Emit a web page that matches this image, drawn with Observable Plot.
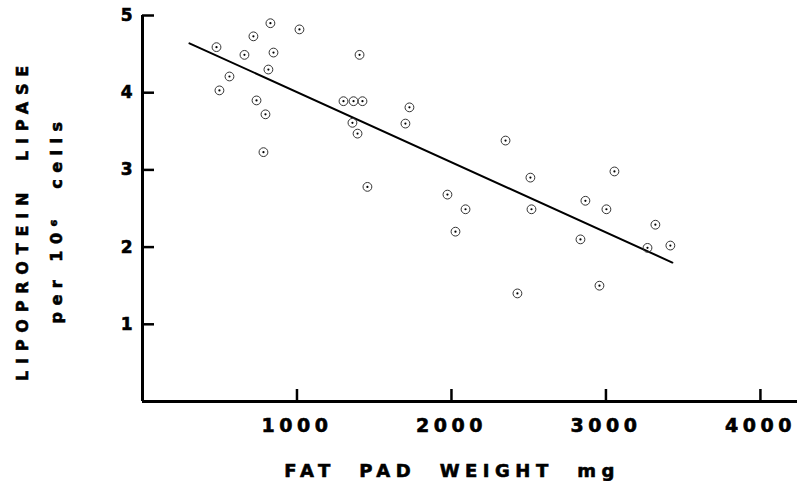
<!DOCTYPE html>
<html>
<head>
<meta charset="utf-8">
<script src="https://cdn.jsdelivr.net/npm/d3@7"></script>
<script src="https://cdn.jsdelivr.net/npm/@observablehq/plot@0.6"></script>
<style>
  body { margin: 0; background: #fff; }
  #chart { width: 797px; height: 481px; }
  g[aria-label="x-axis tick label"] text { letter-spacing: 4.5px; }
  g[aria-label="x-axis tick label"] text, g[aria-label="y-axis tick label"] text,
  [aria-label="x-title"], [aria-label="y-title"], [aria-label="y-subtitle"] {
    stroke: #000; stroke-width: 0.6px; paint-order: normal;
  }
  [aria-label="x-title"] { letter-spacing: 5.5px; }
  [aria-label="y-title"] { letter-spacing: 6.8px; }
  [aria-label="y-subtitle"] { letter-spacing: 6.5px; }
</style>
</head>
<body>
<div id="chart"></div>
<script>
// Fat pad weight (mg) of each observation
const fatPadWeight = [479, 498, 563, 660, 718, 738, 783, 796, 815, 828, 848, 1016,
  1301, 1366, 1424, 1359, 1392, 1405, 1456, 1702, 1728, 1974, 2026, 2091,
  2350, 2427, 2511, 2518, 2835, 2867, 2958, 3003, 3055, 3269, 3320, 3417];
// Lipoprotein lipase per 10^6 cells
const lipase = [4.59, 4.03, 4.21, 4.49, 4.73, 3.90, 3.23, 3.72, 4.30, 4.90, 4.52, 4.82,
  3.89, 3.89, 3.89, 3.61, 3.47, 4.49, 2.78, 3.60, 3.81, 2.68, 2.20, 2.49,
  3.38, 1.40, 2.90, 2.49, 2.10, 2.60, 1.50, 2.49, 2.98, 1.99, 2.29, 2.02];
// Regression line end points
const fitWeight = [304, 3430];
const fitLipase = [4.64, 1.80];
// Tick values
const xTicks = [1000, 2000, 3000, 4000];
const yTicks = [1, 2, 3, 4, 5];

const points = fatPadWeight.map((w, i) => ({w, l: lipase[i]}));
const fit = fitWeight.map((w, i) => ({w, l: fitLipase[i]}));

const font = "DejaVu Sans";

const chart = Plot.plot({
  width: 797,
  height: 481,
  marginLeft: 142,
  marginRight: 0,
  marginTop: 15,
  marginBottom: 80,
  style: {background: "#fff", color: "#000", overflow: "visible"},
  x: {domain: [0, 4240]},
  y: {domain: [0, 5]},
  marks: [
    Plot.axisX(xTicks, {tickSize: 0, tickPadding: 17, tickFormat: d => String(d), fontSize: 19, fontWeight: "bold", fontFamily: font, label: null}),
    Plot.axisY(yTicks, {tickSize: 0, tickPadding: 10, tickFormat: d => String(d), fontSize: 17, fontWeight: "bold", fontFamily: font, label: null}),
    Plot.tickX(xTicks, {x: d => d, strokeWidth: 2.5, insetTop: 374}),
    Plot.tickY(yTicks, {y: d => d, strokeWidth: 2.5, insetRight: 643}),
    Plot.ruleX([0], {strokeWidth: 3}),
    Plot.ruleY([0], {strokeWidth: 3}),
    Plot.line(fit, {x: "w", y: "l", stroke: "#000", strokeWidth: 2}),
    Plot.dot(points, {x: "w", y: "l", r: 4.4, stroke: "#333", strokeWidth: 1, fill: "none"}),
    Plot.dot(points, {x: "w", y: "l", r: 1.1, fill: "#000", stroke: "none"}),
    Plot.text(["FAT\u00a0\u00a0PAD\u00a0\u00a0WEIGHT\u00a0\u00a0mg"], {text: d => d, frameAnchor: "bottom",
      textAnchor: "middle", lineAnchor: "middle", dx: -18, dy: 70,
      fontSize: 18, fontWeight: "bold", fontFamily: font, ariaLabel: () => "x-title"}),
    Plot.text(["LIPOPROTEIN\u00a0\u00a0LIPASE"], {text: d => d, frameAnchor: "left", rotate: -90,
      textAnchor: "middle", lineAnchor: "middle", dx: -120, dy: 11.5,
      fontSize: 16, fontWeight: "bold", fontFamily: font, ariaLabel: () => "y-title"}),
    Plot.text(["per\u00a010\u2076\u00a0\u00a0cells"], {text: d => d, frameAnchor: "left", rotate: -90,
      textAnchor: "middle", lineAnchor: "middle", dx: -86, dy: 11,
      fontSize: 16, fontWeight: "bold", fontFamily: font, ariaLabel: () => "y-subtitle"})
  ]
});
document.getElementById("chart").appendChild(chart);
</script>
</body>
</html>
